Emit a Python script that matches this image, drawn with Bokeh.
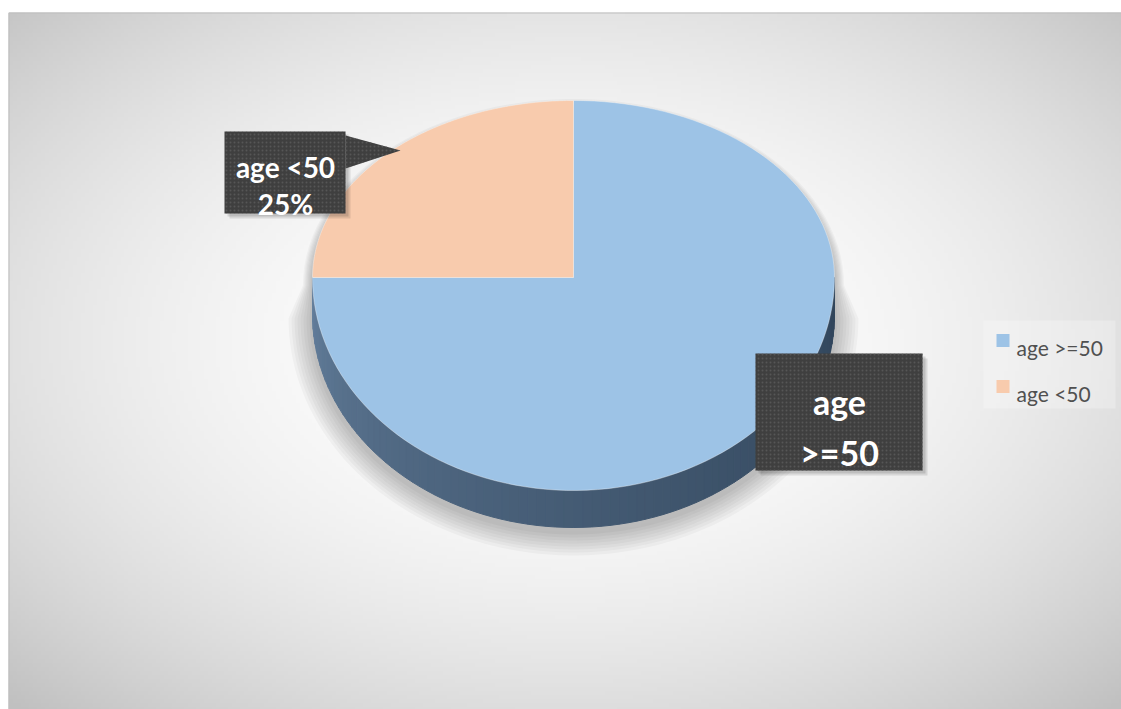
import numpy as np
from bokeh.plotting import figure
from bokeh.models import Range1d
from bokeh.core.properties import value
from bokeh.embed import file_html
from bokeh.resources import INLINE

# ---- data ----
categories = ["age >=50", "age <50"]
values = [75, 25]
colors = ["#9dc3e6", "#f8cbad"]
legend_labels = ["age >=50", "age <50"]

total = float(sum(values))
pcts = [round(v / total * 100) for v in values]

# ---- layout ----
W, H = 1121, 709
p = figure(width=W, height=H, x_range=Range1d(0, W), y_range=Range1d(H, 0),
           x_axis_type=None, y_axis_type=None, output_backend="svg",
           toolbar_location=None, min_border=0)
p.grid.visible = False
p.outline_line_color = None
p.background_fill_color = "white"
p.border_fill_color = "white"

# chart-area background: radial gradient white -> grey
gx0, gy0, gx1, gy1 = 8, 12, W, H
nx, ny = 280, 175
xs = np.linspace(gx0, gx1, nx)
ys = np.linspace(gy0, gy1, ny)
X, Y = np.meshgrid(xs, ys)
r2 = ((X - 565) / 557.0) ** 2 + ((Y - 340) / 348.0) ** 2
g = np.clip(255 - 30 * r2, 192, 255).astype(np.uint8)
img = np.empty((ny, nx), dtype=np.uint32)
view = img.view(dtype=np.uint8).reshape((ny, nx, 4))
view[..., 0] = g
view[..., 1] = g
view[..., 2] = g
view[..., 3] = 255
p.image_rgba(image=[img], x=gx0, y=gy0, dw=gx1 - gx0 + 2, dh=gy1 - gy0 + 2)
p.line([gx0 + 0.5, gx0 + 0.5, W + 2], [H + 2, gy0 + 0.5, gy0 + 0.5],
       line_color="#bdbdbd", line_width=1)

# ---- pie geometry ----
cx, cy = 573, 277
rx = 261
ry_back, ry_front = 177, 213
depth = 37


def pt(theta_deg, k=0.0):
    t = np.radians(theta_deg)
    s = np.sin(t)
    ry = (ry_back if s > 0 else ry_front) + k
    return cx + (rx + k) * np.cos(t), cy - ry * s


# soft shadow
sh_xs, sh_ys, sh_alpha = [], [], []
for k in range(24, 0, -3):
    px_, py_ = [], []
    for th in np.linspace(0, 180, 60):
        x, y = pt(th, k * 0.4)
        px_.append(x); py_.append(y + 8)
    for th in np.linspace(180, 360, 90):
        x, y = pt(th, k)
        px_.append(x); py_.append(y + depth + 4)
    sh_xs.append(px_); sh_ys.append(py_); sh_alpha.append(0.03)
p.patches(sh_xs, sh_ys, fill_color="black", fill_alpha=sh_alpha, line_color=None)

# side (front half) with shading
c_light = np.array([0x6a, 0x86, 0xa4])
c_dark = np.array([0x32, 0x46, 0x5c])
side_xs, side_ys, side_cols = [], [], []
N = 90
ths = np.linspace(180, 360, N + 1)
for i in range(N):
    a, b = ths[i], ths[i + 1]
    x1, y1 = pt(a)
    x2, y2 = pt(b)
    side_xs.append([x1, x2, x2, x1])
    side_ys.append([y1, y2, y2 + depth, y1 + depth])
    t = ((a + b) / 2 - 180) / 180.0
    c = c_light + (c_dark - c_light) * (t ** 0.6)
    side_cols.append("#%02x%02x%02x" % tuple(int(v) for v in c))
p.patches(side_xs, side_ys, fill_color=side_cols, line_color=side_cols, line_width=1)

# top face wedges (start at 12 o'clock, clockwise)
w_xs, w_ys = [], []
start = 90.0
for v in values:
    end = start - v / total * 360.0
    arc = np.linspace(start, end, 120)
    px_, py_ = [cx], [cy]
    for th in arc:
        x, y = pt(th)
        px_.append(x); py_.append(y)
    w_xs.append(px_); w_ys.append(py_)
    start = end
p.patches(w_xs, w_ys, fill_color=colors, line_color="white", line_alpha=0.35, line_width=1)

# ---- data labels ----
FONT = value("Lato")
box_fill = "#3f3f3f"

b1 = dict(left=224, right=345, top=131, bottom=213)
b2 = dict(left=755, right=922, top=353, bottom=470)
for b in (b1, b2):
    for off, al in ((5, 0.10), (3, 0.12)):
        p.quad(left=b["left"] + off, right=b["right"] + off, top=b["top"] + off,
               bottom=b["bottom"] + off, fill_color="black", fill_alpha=al, line_color=None)

p.patch([345, 345, 400], [135, 168, 150], fill_color=box_fill, line_color=None,
        hatch_pattern=".", hatch_color="#565656", hatch_scale=4, hatch_weight=1)
for b in (b1, b2):
    p.quad(left=b["left"], right=b["right"], top=b["top"], bottom=b["bottom"],
           fill_color=box_fill, line_color=None,
           hatch_pattern=".", hatch_color="#565656", hatch_scale=4, hatch_weight=1)

lab1 = [categories[1], f"{pcts[1]}%"]
p.text(x=[285, 285], y=[166, 203], text=lab1, text_font=FONT, text_font_style="bold",
       text_font_size="28px", text_color="white", text_align="center",
       text_baseline="alphabetic")
lab2 = categories[0].split(" ")
p.text(x=[839, 839], y=[401, 452], text=lab2, text_font=FONT, text_font_style="bold",
       text_font_size="34px", text_color="white", text_align="center",
       text_baseline="alphabetic")

# ---- legend ----
p.quad(left=983, right=1115, top=320, bottom=408, fill_color="white", fill_alpha=0.25,
       line_color=None)
ly = [340, 386]
p.rect(x=[1002.5] * 2, y=ly, width=13, height=13, fill_color=colors, line_color=None)
p.text(x=[1016] * 2, y=[l + 7 for l in ly], text=legend_labels, text_font=FONT,
       text_font_size="21px", text_color="#505050", text_align="left",
       text_baseline="alphabetic")

open("out.html", "w").write(file_html(p, INLINE))
